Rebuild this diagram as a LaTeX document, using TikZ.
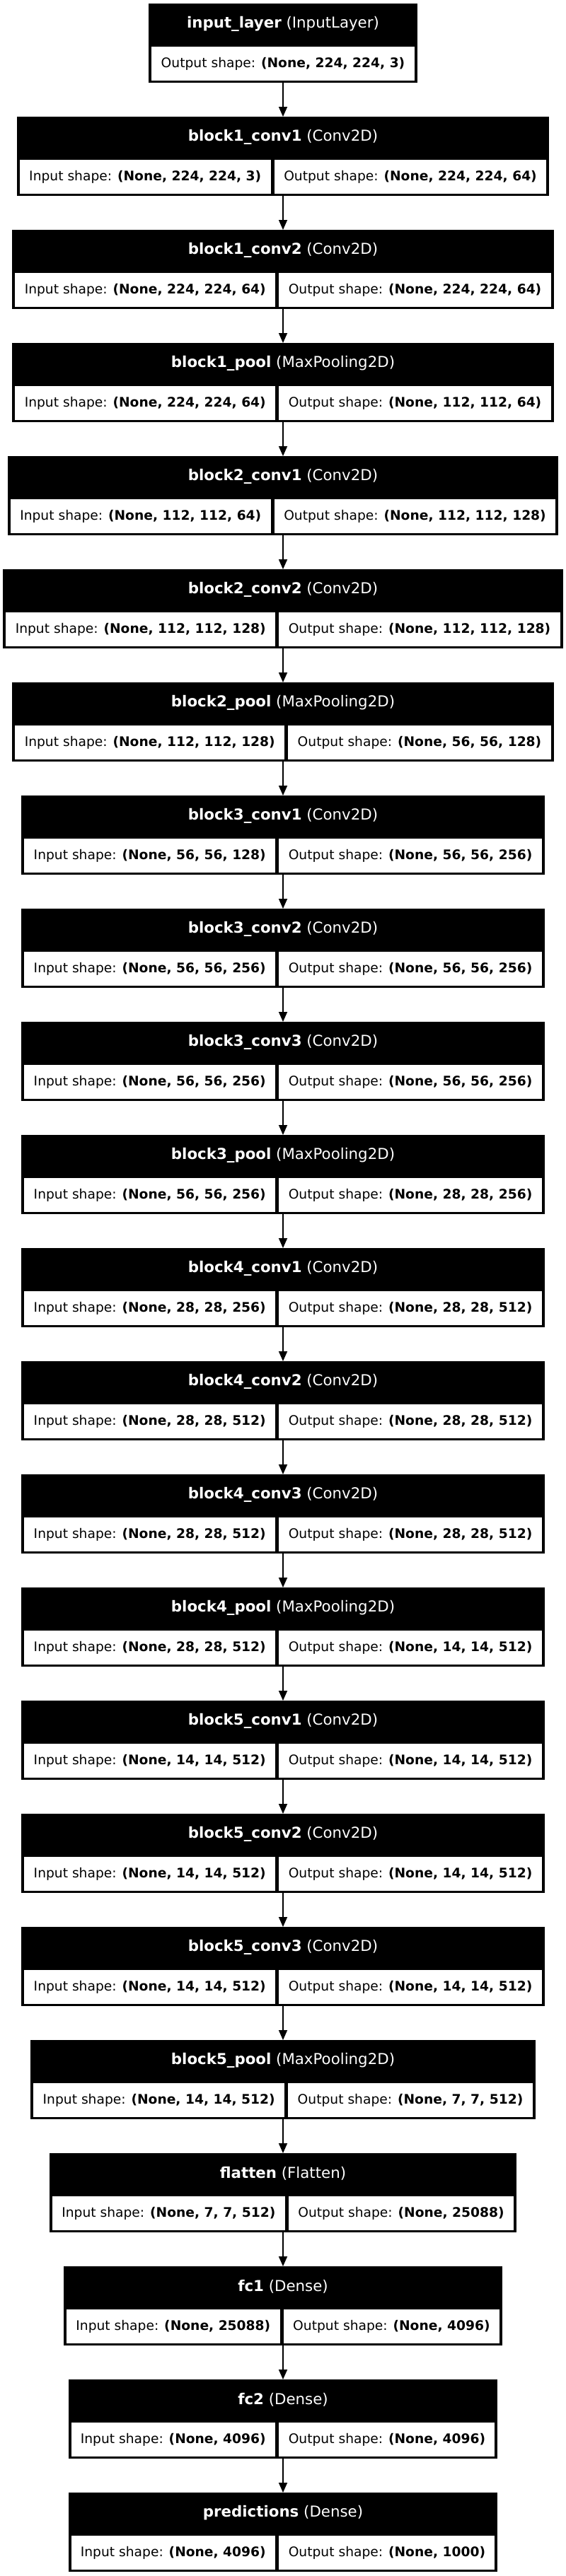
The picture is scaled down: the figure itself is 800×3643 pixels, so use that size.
\documentclass[tikz,border=0pt]{standalone}
\usepackage{fontspec}
\setmainfont{DejaVu Sans}
\usetikzlibrary{arrows.meta}
\newlength\cwl \newlength\cwr
\newcommand\cellfont{\fontsize{18.67pt}{22pt}\selectfont}
\newcommand\headfont{\fontsize{21.33pt}{26pt}\selectfont}
\tikzset{
 layerbox/.style={fill=black, inner sep=0pt, minimum height=111.7pt, anchor=north},
 headtext/.style={text=white, font=\headfont, inner sep=0pt},
 shapecell/.style={fill=white, inner sep=0pt, minimum height=47.5pt, font=\cellfont},
 flow/.style={line width=1.6pt, -{Triangle[length=14pt,width=12pt]}},
}
% measuring pass (outside the picture)
\newcommand\premeasure[6]{%
 \settowidth\cwl{\cellfont Input shape: \textbf{#3}}%
 \settowidth\cwr{\cellfont Output shape: \textbf{#4}}%
 \expandafter\xdef\csname vggl#5\endcsname{\the\dimexpr\cwl+26.67pt\relax}%
 \expandafter\xdef\csname vggr#5\endcsname{\the\dimexpr\cwr+26.67pt\relax}%
 \expandafter\xdef\csname vggb#5\endcsname{\the\dimexpr\cwl+\cwr+66.67pt\relax}%
}
% drawing pass
\newcommand\drawlayer[6]{%
 \node[layerbox, minimum width=\csname vggb#5\endcsname] (#5) at (400pt,#6pt) {};
 \node[headtext] (#5h) at ([yshift=-29pt]#5.north) {\textbf{#1} (#2)};
 \node[shapecell, minimum width=\csname vggl#5\endcsname, anchor=south west] (#5i) at ([xshift=4pt,yshift=3.2pt]#5.south west) {Input shape: \textbf{#3}};
 \node[shapecell, minimum width=\csname vggr#5\endcsname, anchor=south east] (#5o) at ([xshift=-4pt,yshift=3.2pt]#5.south east) {Output shape: \textbf{#4}};
}
\newcommand\layerdata{%
\vgglayer{block1\_conv1}{Conv2D}{(None, 224, 224, 3)}{(None, 224, 224, 64)}{L1}{-165}%
\vgglayer{block1\_conv2}{Conv2D}{(None, 224, 224, 64)}{(None, 224, 224, 64)}{L2}{-325}%
\vgglayer{block1\_pool}{MaxPooling2D}{(None, 224, 224, 64)}{(None, 112, 112, 64)}{L3}{-485}%
\vgglayer{block2\_conv1}{Conv2D}{(None, 112, 112, 64)}{(None, 112, 112, 128)}{L4}{-645}%
\vgglayer{block2\_conv2}{Conv2D}{(None, 112, 112, 128)}{(None, 112, 112, 128)}{L5}{-805}%
\vgglayer{block2\_pool}{MaxPooling2D}{(None, 112, 112, 128)}{(None, 56, 56, 128)}{L6}{-965}%
\vgglayer{block3\_conv1}{Conv2D}{(None, 56, 56, 128)}{(None, 56, 56, 256)}{L7}{-1125}%
\vgglayer{block3\_conv2}{Conv2D}{(None, 56, 56, 256)}{(None, 56, 56, 256)}{L8}{-1285}%
\vgglayer{block3\_conv3}{Conv2D}{(None, 56, 56, 256)}{(None, 56, 56, 256)}{L9}{-1445}%
\vgglayer{block3\_pool}{MaxPooling2D}{(None, 56, 56, 256)}{(None, 28, 28, 256)}{L10}{-1605}%
\vgglayer{block4\_conv1}{Conv2D}{(None, 28, 28, 256)}{(None, 28, 28, 512)}{L11}{-1765}%
\vgglayer{block4\_conv2}{Conv2D}{(None, 28, 28, 512)}{(None, 28, 28, 512)}{L12}{-1925}%
\vgglayer{block4\_conv3}{Conv2D}{(None, 28, 28, 512)}{(None, 28, 28, 512)}{L13}{-2085}%
\vgglayer{block4\_pool}{MaxPooling2D}{(None, 28, 28, 512)}{(None, 14, 14, 512)}{L14}{-2245}%
\vgglayer{block5\_conv1}{Conv2D}{(None, 14, 14, 512)}{(None, 14, 14, 512)}{L15}{-2405}%
\vgglayer{block5\_conv2}{Conv2D}{(None, 14, 14, 512)}{(None, 14, 14, 512)}{L16}{-2565}%
\vgglayer{block5\_conv3}{Conv2D}{(None, 14, 14, 512)}{(None, 14, 14, 512)}{L17}{-2725}%
\vgglayer{block5\_pool}{MaxPooling2D}{(None, 14, 14, 512)}{(None, 7, 7, 512)}{L18}{-2885}%
\vgglayer{flatten}{Flatten}{(None, 7, 7, 512)}{(None, 25088)}{L19}{-3045}%
\vgglayer{fc1}{Dense}{(None, 25088)}{(None, 4096)}{L20}{-3205}%
\vgglayer{fc2}{Dense}{(None, 4096)}{(None, 4096)}{L21}{-3365}%
\vgglayer{predictions}{Dense}{(None, 4096)}{(None, 1000)}{L22}{-3525}%
}
\AtBeginDocument{%
 \begingroup
 \let\vgglayer\premeasure
 \layerdata
 \settowidth\cwr{\cellfont Output shape: \textbf{(None, 224, 224, 3)}}%
 \xdef\vggrzero{\the\dimexpr\cwr+26.67pt\relax}%
 \xdef\vggbzero{\the\dimexpr\cwr+34.67pt\relax}%
 \endgroup
}
\begin{document}
\begin{tikzpicture}
\useasboundingbox (0pt,0pt) rectangle (800pt,-3643pt);
% input layer
\node[layerbox, minimum width=\vggbzero] (L0) at (400pt,-5pt) {};
\node[headtext] (L0h) at ([yshift=-29pt]L0.north) {\textbf{input\_layer} (InputLayer)};
\node[shapecell, minimum width=\vggrzero, anchor=south] (L0o) at ([yshift=3.2pt]L0.south) {Output shape: \textbf{(None, 224, 224, 3)}};
\let\vgglayer\drawlayer
\layerdata
\foreach \i in {1,...,22}{%
 \pgfmathtruncatemacro\j{\i-1}%
 \draw[flow] (L\j.south) -- (L\i.north);
}
\end{tikzpicture}
\end{document}
